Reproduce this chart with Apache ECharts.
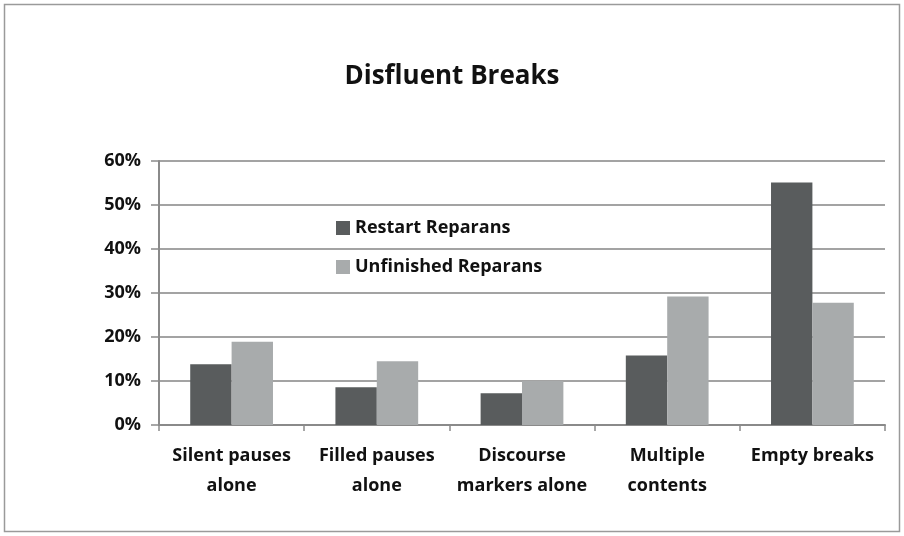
<!DOCTYPE html>
<html>
<head>
<meta charset="utf-8">
<script src="https://cdn.jsdelivr.net/npm/echarts@6/dist/echarts.min.js"></script>
<style>
  html, body { margin: 0; padding: 0; background: #fff; }
  #chart { width: 904px; height: 536px; }
</style>
</head>
<body>
<div id="chart"></div>
<script>
var categories = ['Silent pauses\nalone', 'Filled pauses\nalone', 'Discourse\nmarkers alone', 'Multiple\ncontents', 'Empty breaks']
var restartReparans = [13.8, 8.6, 7.2, 15.8, 55.1]
var unfinishedReparans = [18.9, 14.5, 10.0, 29.2, 27.8]
var seriesNames = ['Restart Reparans', 'Unfinished Reparans']

var font = '"Open Sans", "DejaVu Sans", sans-serif'
var chart = echarts.init(document.getElementById('chart'))

chart.setOption({
  backgroundColor: '#fff',
  graphic: [{
    type: 'rect',
    shape: { x: 4.5, y: 4.5, width: 895, height: 527 },
    style: { fill: 'none', stroke: '#9a9a9a', lineWidth: 1.5 },
    silent: true
  }],
  title: {
    text: 'Disfluent Breaks',
    left: 'center',
    top: 59,
    textStyle: { fontFamily: font, fontSize: 26, fontWeight: 'bold', color: '#111' }
  },
  legend: {
    data: seriesNames,
    orient: 'vertical',
    left: 331,
    top: 214,
    itemWidth: 14,
    itemHeight: 14,
    itemGap: 21,
    icon: 'rect',
    textStyle: { fontFamily: font, fontSize: 18, fontWeight: 'bold', color: '#111' }
  },
  grid: { left: 159, right: 19, top: 161, bottom: 111 },
  xAxis: {
    type: 'category',
    data: categories,
    axisLine: { lineStyle: { color: '#8a8a8a', width: 2 } },
    axisTick: { show: true, length: 6, lineStyle: { color: '#8a8a8a', width: 1.5 } },
    axisLabel: {
      fontFamily: font, fontSize: 18, fontWeight: 'bold', color: '#111',
      lineHeight: 30, margin: 16, interval: 0
    }
  },
  yAxis: {
    type: 'value',
    min: 0,
    max: 60,
    interval: 10,
    axisLine: { show: true, lineStyle: { color: '#8a8a8a', width: 2 } },
    axisTick: { show: true, length: 8, lineStyle: { color: '#8a8a8a', width: 1.5 } },
    splitLine: { lineStyle: { color: '#a3a3a3', width: 2 } },
    axisLabel: {
      fontFamily: font, fontSize: 18, fontWeight: 'bold', color: '#111',
      margin: 18,
      formatter: function (v) { return v + '%' }
    }
  },
  series: [
    {
      name: seriesNames[0],
      type: 'bar',
      data: restartReparans,
      barGap: '0%',
      barCategoryGap: '43%',
      itemStyle: { color: '#595c5d' }
    },
    {
      name: seriesNames[1],
      type: 'bar',
      data: unfinishedReparans,
      itemStyle: { color: '#a8abac' }
    }
  ]
})
</script>
</body>
</html>
